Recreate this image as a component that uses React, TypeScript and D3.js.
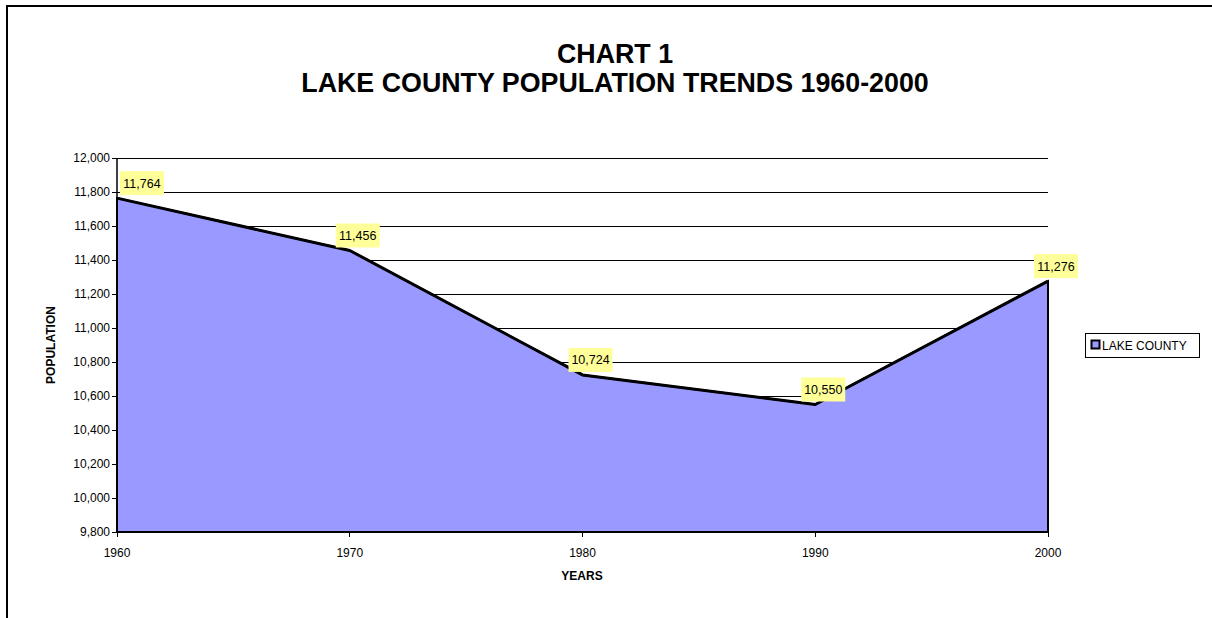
import React from "react";
import * as d3 from "d3";

const years = [1960, 1970, 1980, 1990, 2000];
const population = [11764, 11456, 10724, 10550, 11276];
const yTicks = [9800, 10000, 10200, 10400, 10600, 10800, 11000, 11200, 11400, 11600, 11800, 12000];
const seriesName = "LAKE COUNTY";
const titleLines = ["CHART 1", "LAKE COUNTY POPULATION TRENDS 1960-2000"];

const W = 1212;
const H = 618;
const plot = { left: 117, right: 1048, top: 158, bottom: 532 };
const FONT = "Arial, 'Liberation Sans', Helvetica, sans-serif";

export default function App() {
  const x = d3.scaleLinear().domain([years[0], years[years.length - 1]]).range([plot.left, plot.right]);
  const y = d3.scaleLinear().domain([9800, 12000]).range([plot.bottom, plot.top]);
  const pts = years.map((yr, i) => ({ yr, v: population[i] }));

  const area = d3
    .area<{ yr: number; v: number }>()
    .x((d) => x(d.yr))
    .y0(y(9800))
    .y1((d) => y(d.v));
  const line = d3
    .line<{ yr: number; v: number }>()
    .x((d) => x(d.yr))
    .y((d) => y(d.v));
  const fmt = d3.format(",");

  const boxW = 44;
  const boxH = 24;

  return (
    <svg
      width={W}
      height={H}
      style={{ position: "absolute", left: 0, top: 0, fontFamily: FONT }}
    >
      <rect x={0} y={0} width={W} height={H} fill="#fff" />
      {/* outer chart border */}
      <rect x={7} y={6} width={W + 20} height={H + 20} fill="none" stroke="#000" strokeWidth={2} />

      {/* title */}
      {titleLines.map((t, i) => (
        <text
          key={t}
          x={615}
          y={63 + i * 29}
          textAnchor="middle"
          fontSize={26.8}
          fontWeight="bold"
          fill="#000"
        >
          {t}
        </text>
      ))}

      {/* gridlines */}
      {yTicks.map((t) => (
        <line key={t} x1={plot.left} x2={plot.right} y1={y(t)} y2={y(t)} stroke="#000" strokeWidth={1} shapeRendering="crispEdges" />
      ))}

      {/* area */}
      <path d={area(pts) ?? ""} fill="#9999FF" stroke="#000" strokeWidth={2} />
      <path d={line(pts) ?? ""} fill="none" stroke="#000" strokeWidth={3} strokeLinejoin="round" />

      {/* y axis */}
      <line x1={plot.left} x2={plot.left} y1={plot.top} y2={plot.bottom} stroke="#000" strokeWidth={1.5} />
      {yTicks.map((t) => (
        <g key={t}>
          <line x1={plot.left - 5} x2={plot.left} y1={y(t)} y2={y(t)} stroke="#000" strokeWidth={1} shapeRendering="crispEdges" />
          <text x={plot.left - 7} y={y(t) + 4} textAnchor="end" fontSize={12} fill="#000">
            {fmt(t)}
          </text>
        </g>
      ))}

      {/* x axis */}
      <line x1={plot.left} x2={plot.right} y1={plot.bottom} y2={plot.bottom} stroke="#000" strokeWidth={2} />
      {years.map((yr) => (
        <g key={yr}>
          <line x1={x(yr)} x2={x(yr)} y1={plot.bottom} y2={plot.bottom + 5} stroke="#000" strokeWidth={1} shapeRendering="crispEdges" />
          <text x={x(yr)} y={557} textAnchor="middle" fontSize={12} fill="#000">
            {yr}
          </text>
        </g>
      ))}

      {/* axis titles */}
      <text x={582} y={580} textAnchor="middle" fontSize={12} fontWeight="bold" fill="#000">
        YEARS
      </text>
      <text
        transform={`translate(55,345) rotate(-90)`}
        textAnchor="middle"
        fontSize={12}
        fontWeight="bold"
        fill="#000"
      >
        POPULATION
      </text>

      {/* data labels */}
      {pts.map((p) => {
        const px = x(p.yr);
        const py = y(p.v);
        let bx = px + 8 - boxW / 2;
        if (bx < plot.left + 3) bx = plot.left + 3;
        const by = py - 3 - boxH;
        return (
          <g key={p.yr}>
            <rect x={bx} y={by} width={boxW} height={boxH} fill="#FFFF99" />
            <text x={bx + boxW / 2} y={by + 16.5} textAnchor="middle" fontSize={12.5} fill="#000">
              {fmt(p.v)}
            </text>
          </g>
        );
      })}

      {/* legend */}
      <rect x={1085.5} y={333.5} width={114} height={24} fill="#fff" stroke="#000" strokeWidth={1} />
      <rect x={1091.5} y={340.5} width={8} height={8} fill="#9999FF" stroke="#000" strokeWidth={2} />
      <text x={1102} y={350} fontSize={12} fill="#000">
        {seriesName}
      </text>
    </svg>
  );
}
